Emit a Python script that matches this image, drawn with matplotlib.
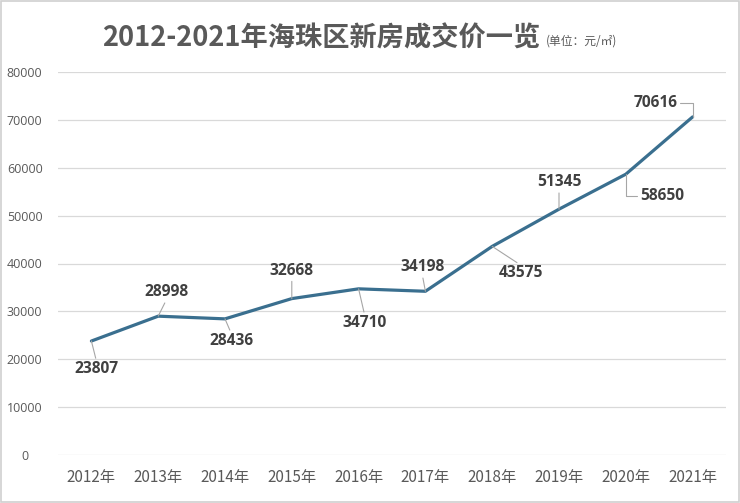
import matplotlib.pyplot as plt
from matplotlib.patches import Rectangle

plt.rcParams['font.family'] = ['Noto Sans CJK SC', 'DejaVu Sans']

years = ['2012年', '2013年', '2014年', '2015年', '2016年',
         '2017年', '2018年', '2019年', '2020年', '2021年']
prices = [23807, 28998, 28436, 32668, 34710, 34198, 43575, 51345, 58650, 70616]
y_ticks = [0, 10000, 20000, 30000, 40000, 50000, 60000, 70000, 80000]

# label offsets in pixels (dx, dy)
label_offsets = [(5, -28), (8, 24), (6, -22), (0, 28), (6, -34),
                 (-3, 24), (29, -27), (0, 27), (36, -22), (-37, 14)]

line_color = '#3A6F8F'
grid_color = '#D9D9D9'
tick_color = '#595959'
label_color = '#404040'
leader_color = '#A6A6A6'

fig = plt.figure(figsize=(7.4, 5.03), dpi=100)
ax = fig.add_axes([58 / 740, 1 - 455 / 503, (726 - 58) / 740, (455 - 72) / 503])

x = list(range(len(years)))
ax.plot(x, prices, color=line_color, lw=2.3, solid_capstyle='round', zorder=3)

ax.set_xlim(-0.5, len(years) - 0.5)
ax.set_ylim(0, 80000)
ax.set_yticks(y_ticks)
ax.set_yticklabels([str(v) for v in y_ticks], fontfamily='Open Sans',
                   fontsize=9, color=tick_color, ha='center')
ax.set_xticks(x)
ax.set_xticklabels(years, fontsize=11, color=tick_color)
ax.tick_params(axis='y', length=0, pad=24)
ax.tick_params(axis='x', length=0, pad=10)
ax.grid(axis='y', color=grid_color, lw=0.9)
ax.set_axisbelow(True)
for s in ax.spines.values():
    s.set_visible(False)

# data labels with leader lines
for i, (v, (dx, dy)) in enumerate(zip(prices, label_offsets)):
    if i == 8:
        props = dict(arrowstyle='-', color=leader_color, lw=0.8, shrinkA=0, shrinkB=0,
                     relpos=(0, 0.5), connectionstyle='angle,angleA=0,angleB=90,rad=0')
    elif i == 9:
        props = dict(arrowstyle='-', color=leader_color, lw=0.8, shrinkA=0, shrinkB=0,
                     relpos=(1, 0.5), connectionstyle='angle,angleA=0,angleB=90,rad=0')
    else:
        rel = (0.5, 0) if dy > 0 else (0.5, 1)
        props = dict(arrowstyle='-', color=leader_color, lw=0.8, shrinkA=0, shrinkB=0,
                     relpos=rel)
    ax.annotate(str(v), xy=(i, v), xytext=(dx, dy), textcoords='offset pixels',
                ha='center', va='center', fontfamily='Open Sans', fontweight='bold',
                fontsize=11.2, color=label_color, arrowprops=props, zorder=4)

# title
fig.text(102 / 740, 1 - 46 / 503, '2012-2021年海珠区新房成交价一览', fontsize=19.6,
         fontweight='bold', color=tick_color, ha='left', va='baseline')
fig.text(546 / 740, 1 - 45 / 503, '(单位：元/㎡)', fontsize=8.5,
         color=tick_color, ha='left', va='baseline')

# outer border
fig.add_artist(Rectangle((0.001, 0.001), 0.997, 0.997, transform=fig.transFigure,
                         fill=False, edgecolor='#D0D0D0', lw=1.2))

fig.savefig('out.png', dpi=100)
